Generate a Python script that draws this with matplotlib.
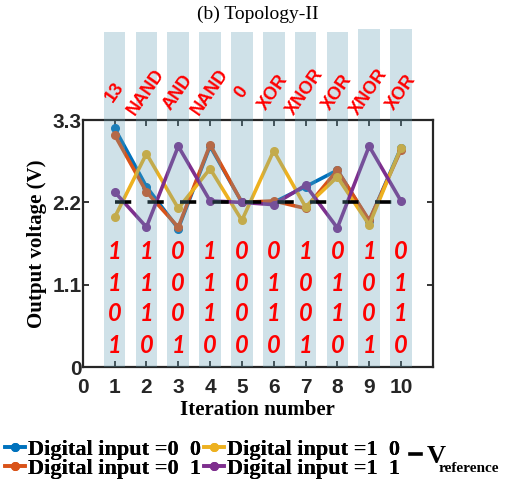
import matplotlib
matplotlib.use("Agg")
import matplotlib.pyplot as plt
from matplotlib.lines import Line2D
import numpy as np

iterations = [1, 2, 3, 4, 5, 6, 7, 8, 9, 10]
v_in00 = [3.19, 2.41, 1.85, 2.95, 2.20, 2.20, 2.41, 2.63, 1.95, 2.93]
v_in01 = [3.10, 2.34, 1.87, 2.97, 2.20, 2.22, 2.12, 2.63, 1.96, 2.90]
v_in10 = [2.00, 2.85, 2.12, 2.65, 1.96, 2.89, 2.14, 2.54, 1.90, 2.93]
v_in11 = [2.34, 1.87, 2.95, 2.22, 2.20, 2.17, 2.43, 1.86, 2.95, 2.22]
v_reference = 2.2
gates = ["13", "NAND", "AND", "NAND", "0", "XOR", "XNOR", "XOR", "XNOR", "XOR"]
bits = [
    [1, 1, 0, 1, 0, 0, 1, 0, 1, 0],
    [1, 1, 0, 1, 0, 1, 0, 1, 0, 1],
    [0, 1, 0, 1, 0, 1, 0, 1, 0, 1],
    [1, 0, 1, 0, 0, 0, 1, 0, 1, 0],
]
bar_height = [4.48, 4.48, 4.48, 4.48, 4.48, 4.48, 4.48, 4.48, 4.52, 4.52]
y_ticks = [0, 1.1, 2.2, 3.3]
y_ticklabels = ["0", "1.1", "2.2", "3.3"]
x_ticks = [0, 1, 2, 3, 4, 5, 6, 7, 8, 9, 10]

series = [
    ("Digital input =0  0", v_in00, "#0072BD"),
    ("Digital input =0  1", v_in01, "#D95319"),
    ("Digital input =1  0", v_in10, "#EDB120"),
    ("Digital input =1  1", v_in11, "#7E2F8E"),
]

fig = plt.figure(figsize=(5.05, 4.8), dpi=100)
ax = fig.add_axes([0.164, 0.235, 0.693, 0.515])

handles = []
for label, vals, col in series:
    h, = ax.plot(iterations, vals, color=col, lw=2.6, marker="o", ms=5.5,
                 label=label, zorder=3)
    handles.append(h)

ax.plot(iterations, [v_reference] * len(iterations), color="black", lw=2.6,
        dashes=(4.5, 4.5), zorder=4)

ax.bar(iterations, bar_height, width=0.68, color=(0.39, 0.62, 0.70), alpha=0.3,
       zorder=5, clip_on=False, linewidth=0)

red_y = [1.54, 1.12, 0.72, 0.29]
for r, row in enumerate(bits):
    for x, b in zip(iterations, row):
        ax.text(x, red_y[r], str(b), color="red", fontsize=17, fontstyle="italic",
                fontweight="bold", ha="center", va="center", zorder=6,
                family="Lato")

for x, g in zip(iterations, gates):
    ax.text(x, 3.67, g, color="red", fontsize=13, fontweight="bold",
            rotation=55, ha="center", va="center", clip_on=False,
            family="Liberation Sans", zorder=6)

ax.set_xlim(0, 11)
ax.set_ylim(0, 3.3)
ax.set_yticks(y_ticks)
ax.set_yticklabels(y_ticklabels)
ax.set_xticks(x_ticks)
ax.tick_params(direction="in", length=4, width=1.3, top=True, right=True,
               labelsize=15, colors="#262626")
ax.tick_params(axis="y", pad=1)
ax.tick_params(axis="x", pad=8)
for lab in ax.get_xticklabels() + ax.get_yticklabels():
    lab.set_fontweight("bold")
    lab.set_family("Liberation Sans")
for s in ax.spines.values():
    s.set_linewidth(1.6)
    s.set_color("#262626")

ax.set_ylabel("Output voltage (V)", family="Liberation Serif", fontweight="bold",
              fontsize=15, labelpad=4)
ax.set_xlabel("Iteration number", family="Liberation Serif", fontweight="bold",
              fontsize=15, labelpad=2)
fig.text(0.51, 0.97, "(b) Topology-II", family="Liberation Serif", fontsize=14,
         ha="center", va="center")

leg = fig.legend(handles=handles, loc="lower left", bbox_to_anchor=(-0.025, -0.035),
                 ncol=2, frameon=False, handlelength=0.9, handletextpad=0.15,
                 columnspacing=0.1, labelspacing=-0.05, borderpad=0.3,
                 prop={"family": "Liberation Serif", "weight": "bold", "size": 16})
ref_handle = Line2D([], [], color="black", lw=2.6)
leg2 = fig.legend(handles=[ref_handle], labels=["V"],
                  loc="center left", bbox_to_anchor=(0.785, 1 - 456 / 480), frameon=False,
                  handlelength=0.45, handletextpad=0.2, borderpad=0.0,
                  prop={"family": "Liberation Serif", "weight": "bold", "size": 19})
fig.text(439 / 505, 1 - 468 / 480, "reference", family="Liberation Serif",
         fontweight="bold", fontsize=11, ha="left", va="center")
fig.add_artist(leg)

fig.savefig("out.png", dpi=100)
